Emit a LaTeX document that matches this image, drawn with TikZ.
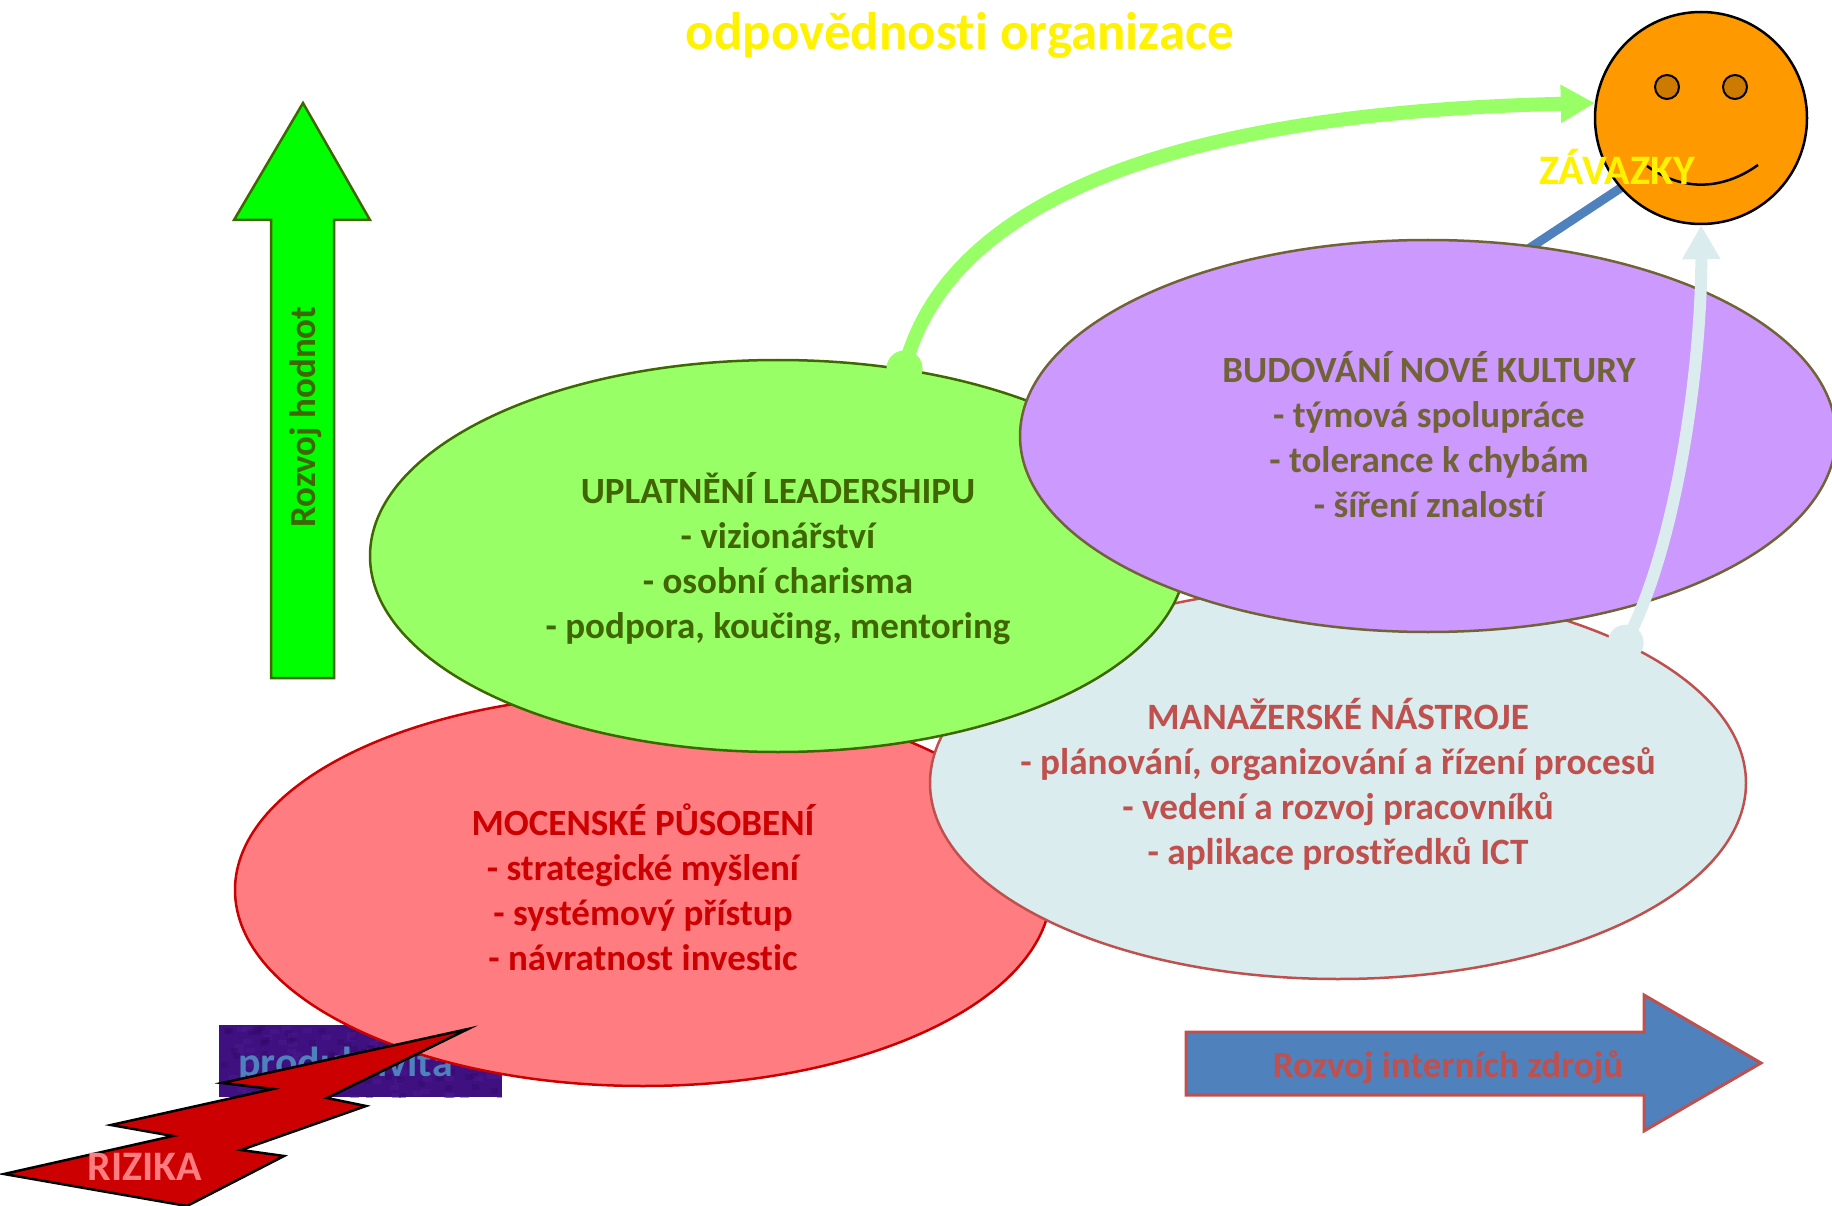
\documentclass[tikz,border=0pt]{standalone}
\usepackage{fontspec}
\setmainfont[Ligatures=NoCommon]{Carlito}
\usetikzlibrary{shapes.geometric,arrows.meta}
\pgfdeclarelayer{under}
\pgfsetlayers{under,main}
\definecolor{gfill}{HTML}{99FF66}
\definecolor{gtext}{HTML}{3F6600}
\definecolor{pfill}{HTML}{CC99FF}
\definecolor{ptext}{HTML}{716337}
\definecolor{lfill}{HTML}{DAECEE}
\definecolor{ltext}{HTML}{C0504D}
\definecolor{rfill}{HTML}{FF7C80}
\definecolor{rtext}{HTML}{CC0000}
\definecolor{bluef}{HTML}{4F81BD}
\definecolor{orangef}{HTML}{FF9900}
\definecolor{eyef}{HTML}{CC7A00}
\definecolor{purpleb}{HTML}{3F1080}
\definecolor{purplea}{HTML}{4E1A90}
\definecolor{purplec}{HTML}{33096A}
\tikzset{
  oval/.style={ellipse,inner sep=0pt,minimum width=816pt,minimum height=392pt,line width=2.5pt},
  ovaltext/.style={inner sep=0pt,align=center,font=\fontsize{37}{45}\selectfont\bfseries},
  label37/.style={inner sep=0pt,font=\fontsize{37}{45}\selectfont\bfseries},
  label42/.style={inner sep=0pt,font=\fontsize{42}{50}\selectfont\bfseries},
  eye/.style={circle,draw=black,fill=eyef,line width=2pt,inner sep=0pt,minimum size=24pt},
  dot/.style={circle,inner sep=0pt,minimum size=36pt}
}
\begin{document}
\begin{tikzpicture}[x=1pt,y=-1pt]
\clip (0,0) rectangle (1832,1206);
% title
\node[inner sep=0pt,text=yellow,font=\fontsize{53}{60}\selectfont\bfseries] (title) at (960,35) {odpovědnosti organizace};
% up arrow
\draw[fill=green,draw=gtext,line width=2.5pt] (303,103) -- (370,220) -- (334,220) -- (334,678) -- (271,678) -- (271,220) -- (234,220) -- cycle;
\node[label37,rotate=90,text=gtext] (hodnot) at (306,417) {Rozvoj hodnot};
% right arrow
\draw[fill=bluef,draw=ltext,line width=3pt] (1186,1032) -- (1644,1032) -- (1644,995) -- (1761,1063) -- (1644,1131) -- (1644,1095) -- (1186,1095) -- cycle;
\node[label37,text=ltext] (zdroje) at (1448,1067) {Rozvoj interních zdrojů};
% textured box
\node[fill=purpleb,inner sep=0pt,minimum width=283pt,minimum height=72pt] (box) at (360.5,1061) {};
\pgfmathsetseed{42}
\begin{scope}
\clip (box.south west) rectangle (box.north east);
\foreach \i in {1,...,170}{
  \pgfmathsetmacro{\xx}{219+rnd*283}
  \pgfmathsetmacro{\yy}{1025+rnd*72}
  \pgfmathtruncatemacro{\cc}{rnd*2}
  \ifnum\cc=0\fill[purplea,opacity=.45] (\xx,\yy) rectangle ++(9,5);\else\fill[purplec,opacity=.45] (\xx,\yy) rectangle ++(7,6);\fi
}
\end{scope}
\node[label42,text=bluef,anchor=west] (prod) at (238,1065) {produktivita};
% ellipses
\node[oval,draw=rtext,fill=rfill] (red) at (643,890) {};
\node[ovaltext,text=rtext] (redt) at (643,887.5) {MOCENSKÉ PŮSOBENÍ\\- strategické myšlení\\- systémový přístup\\- návratnost investic};
\node[oval,draw=ltext,fill=lfill] (light) at (1338,783) {};
\node[ovaltext,text=ltext,font=\fontsize{37.2}{45}\selectfont\bfseries] (lightt) at (1338,784) {MANAŽERSKÉ NÁSTROJE\\- plánování, organizování a řízení procesů\\- vedení a rozvoj pracovníků\\- aplikace prostředků ICT};
\node[oval,draw=gtext,fill=gfill] (grn) at (778,556) {};
\node[ovaltext,text=gtext] (grnt) at (778,559) {UPLATNĚNÍ LEADERSHIPU\\- vizionářství\\- osobní charisma\\- podpora, koučing, mentoring};
\node[oval,draw=ptext,fill=pfill] (pur) at (1428,436) {};
\node[ovaltext,text=ptext] (purt) at (1429,435) {BUDOVÁNÍ NOVÉ KULTURY\\- týmová spolupráce\\- tolerance k chybám\\- šíření znalostí};
% smiley
\node[circle,draw=black,fill=orangef,line width=2.5pt,inner sep=0pt,minimum size=212pt] (smiley) at (1701,118) {};
\node[eye] (eyeL) at (1667,87) {};
\node[eye] (eyeR) at (1735,87) {};
\draw[line width=2.5pt] (1647,166) .. controls (1680,190) and (1720,192) .. (1758,165);
\begin{pgfonlayer}{under}
\draw[bluef,line width=9pt,shorten <=-12pt,shorten >=-6pt] (pur.61.4) -- (smiley.221);
\end{pgfonlayer}
% connectors
\node[dot,fill=gfill] (gstart) at (grn.56) {};
\node[dot,fill=lfill] (lstart) at (light.26) {};
\draw[gfill,line width=14pt,-{Triangle[length=34pt,width=36pt]}] (gstart.center) .. controls (950,190) and (1200,112) .. (smiley.172);
\draw[lfill,line width=12pt,-{Triangle[length=34pt,width=36pt]}] (lstart.center) .. controls (1680,540) and (1702,350) .. (smiley.south);
\node[label42,text=yellow] (zav) at (1617,167) {ZÁVAZKY};
% lightning
\draw[fill=rtext,draw=black,line width=2.5pt,miter limit=20] (468,1029) -- (327,1098) -- (366,1106) -- (241,1150) -- (284,1156) -- (187,1206) -- (4,1174) -- (173,1136) -- (111,1125) -- (273,1089) -- (222,1083) -- cycle;
\node[label42,text=rfill] (riz) at (145,1167) {RIZIKA};
\end{tikzpicture}
\end{document}
